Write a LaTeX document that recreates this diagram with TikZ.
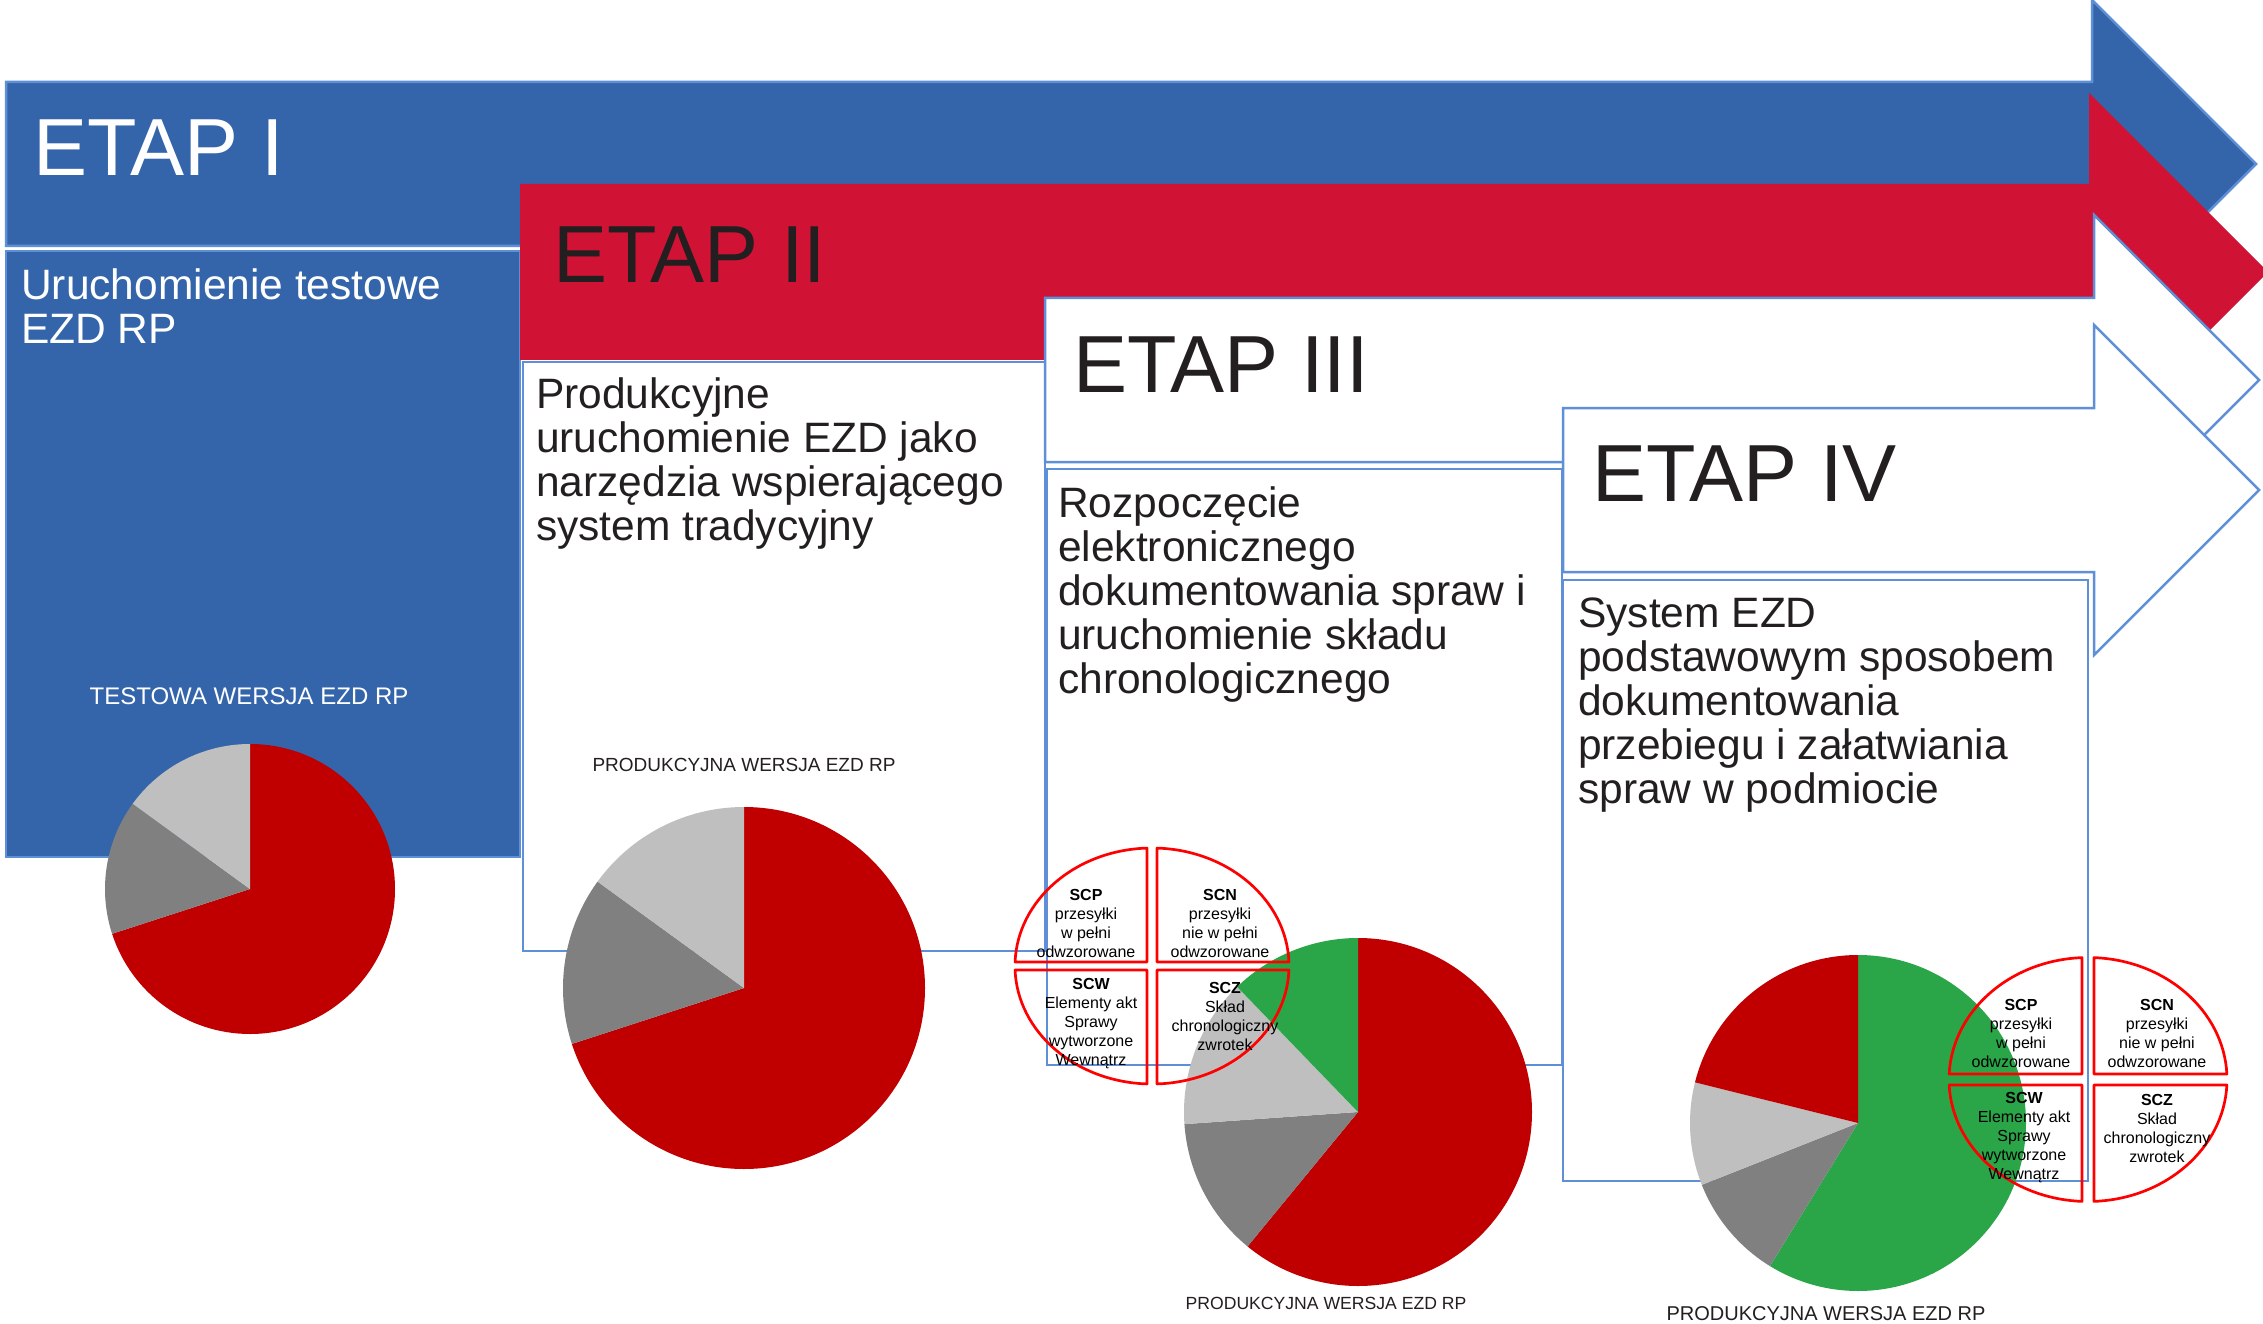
\documentclass[tikz,border=0pt]{standalone}
\usepackage{fontspec}
\setmainfont{Liberation Sans}
\definecolor{etapblue}{RGB}{52,101,170}
\definecolor{etapred}{RGB}{208,19,52}
\definecolor{edgeblue}{RGB}{95,143,215}
\definecolor{inkdark}{RGB}{35,31,32}
\definecolor{piered}{RGB}{192,0,0}
\definecolor{piedark}{RGB}{128,128,128}
\definecolor{pielight}{RGB}{191,191,191}
\definecolor{piegreen}{RGB}{42,166,72}
\definecolor{cellred}{RGB}{255,0,0}
\newcommand\cln[1]{\hbox to 0pt{\hss#1\hss}}
\newcommand\lln[1]{\hbox{#1}}
\newcommand\cellset[6]{%
\begin{scope}[shift={(#1,#2)}, x=1pt, y=1pt]
\pgfmathsetmacro\myax{asin(#5/#3)}
\pgfmathsetmacro\myay{asin(#6/#4)}
\draw[cellline] (#5,#6) -- ({#3*cos(\myay)},#6) arc[start angle=\myay, end angle=90-\myax, x radius=#3, y radius=#4] -- cycle;
\draw[cellline] (-#5,#6) -- (-#5,{#4*cos(\myax)}) arc[start angle=90+\myax, end angle=180-\myay, x radius=#3, y radius=#4] -- cycle;
\draw[cellline] (-#5,-#6) -- ({-#3*cos(\myay)},-#6) arc[start angle=180+\myay, end angle=270-\myax, x radius=#3, y radius=#4] -- cycle;
\draw[cellline] (#5,-#6) -- (#5,{-#4*cos(\myax)}) arc[start angle=270+\myax, end angle=360-\myay, x radius=#3, y radius=#4] -- cycle;
\end{scope}}
\tikzset{
  blueshape/.style={fill=etapblue, draw=edgeblue, line width=2.5pt, line join=miter},
  redshape/.style={fill=etapred},
  whiteshape/.style={fill=white, draw=edgeblue, line width=2.5pt, line join=miter},
  etaptitle/.style={anchor=base west, inner sep=0pt, font=\fontsize{81}{81}\selectfont, text=inkdark},
  bodytext/.style={anchor=base west, inner sep=0pt, font=\fontsize{42.5}{44}\selectfont, text=inkdark},
  pietitle/.style={anchor=base, inner sep=0pt, text=inkdark},
  celltext/.style={anchor=base, inner sep=0pt, font=\fontsize{16}{19.2}\selectfont, text=black},
  cellline/.style={draw=cellred, line width=2.7pt, line join=round},
}
\begin{document}
\begin{tikzpicture}[x=1pt, y=-1pt]
\fill[white] (0,0) rectangle (2263,1324);
\useasboundingbox (0,0) rectangle (2263,1324);

% ETAP I
\draw[blueshape] (6,82) -- (2092,82) -- (2092,0) -- (2256,164) -- (2092,328) -- (2092,246) -- (6,246) -- cycle;
\draw[blueshape] (6,251) rectangle (520,857);
% ETAP II
\fill[redshape] (520,184) -- (2089,184) -- (2089,93) -- (2268,272) -- (2089,451) -- (2089,360) -- (520,360) -- cycle;
\draw[whiteshape] (523,362) rectangle (1045,951);
% ETAP III
\draw[whiteshape] (1045,298) -- (2094,298) -- (2094,215) -- (2259,380) -- (2094,545) -- (2094,462) -- (1045,462) -- cycle;
\draw[whiteshape] (1047,469) rectangle (1562,1065);
% ETAP IV
\draw[whiteshape] (1563,408) -- (2094,408) -- (2094,325) -- (2259,490) -- (2094,655) -- (2094,572) -- (1563,572) -- cycle;
\draw[whiteshape] (1563,580) rectangle (2088,1181);

% titles
\node[etaptitle, text=white] (e1) at (33,176) {ETAP I};
\node[etaptitle] (e2) at (553,283) {ETAP II};
\node[etaptitle] (e3) at (1073,392) {ETAP III};
\node[etaptitle] (e4) at (1592,501) {ETAP IV};

% body texts
\node[bodytext, text=white] (t1) at (21,300) {\vtop{\lln{Uruchomienie testowe}\lln{EZD RP}}};
\node[bodytext] (t2) at (536,408) {\vtop{\lln{Produkcyjne}\lln{uruchomienie EZD jako}\lln{narzędzia wspierającego}\lln{system tradycyjny}}};
\node[bodytext] (t3) at (1058,517) {\vtop{\lln{Rozpoczęcie}\lln{elektronicznego}\lln{dokumentowania spraw i}\lln{uruchomienie składu}\lln{chronologicznego}}};
\node[bodytext] (t4) at (1578,627) {\vtop{\lln{System EZD}\lln{podstawowym sposobem}\lln{dokumentowania}\lln{przebiegu i załatwiania}\lln{spraw w podmiocie}}};

% pie 1
\begin{scope}[shift={(250,889)}, x=1pt, y=1pt]
\fill[piered] (0,0) -- (90:145) arc[start angle=90, end angle=-162, radius=145] -- cycle;
\fill[piedark] (0,0) -- (198:145) arc[start angle=198, end angle=144, radius=145] -- cycle;
\fill[pielight] (0,0) -- (144:145) arc[start angle=144, end angle=90, radius=145] -- cycle;
\end{scope}
\node[pietitle, text=white, font=\fontsize{24}{24}\selectfont] (p1) at (249,704) {TESTOWA WERSJA EZD RP};

% pie 2
\begin{scope}[shift={(744,988)}, x=1pt, y=1pt]
\fill[piered] (0,0) -- (90:181) arc[start angle=90, end angle=-162, radius=181] -- cycle;
\fill[piedark] (0,0) -- (198:181) arc[start angle=198, end angle=144, radius=181] -- cycle;
\fill[pielight] (0,0) -- (144:181) arc[start angle=144, end angle=90, radius=181] -- cycle;
\end{scope}
\node[pietitle, font=\fontsize{19}{19}\selectfont] (p2) at (744,771) {PRODUKCYJNA WERSJA EZD RP};

% pie 3
\begin{scope}[shift={(1358,1112)}, x=1pt, y=1pt]
\fill[piered] (0,0) -- (90:174) arc[start angle=90, end angle=-129.4, radius=174] -- cycle;
\fill[piedark] (0,0) -- (230.6:174) arc[start angle=230.6, end angle=184, radius=174] -- cycle;
\fill[pielight] (0,0) -- (184:174) arc[start angle=184, end angle=134, radius=174] -- cycle;
\fill[piegreen] (0,0) -- (134:174) arc[start angle=134, end angle=90, radius=174] -- cycle;
\end{scope}
\node[pietitle, font=\fontsize{17.6}{17.6}\selectfont] (p3) at (1326,1309) {PRODUKCYJNA WERSJA EZD RP};

% pie 4
\begin{scope}[shift={(1858,1123)}, x=1pt, y=1pt]
\fill[piegreen] (0,0) -- (90:168) arc[start angle=90, end angle=-121.6, radius=168] -- cycle;
\fill[piedark] (0,0) -- (238.4:168) arc[start angle=238.4, end angle=201.6, radius=168] -- cycle;
\fill[pielight] (0,0) -- (201.6:168) arc[start angle=201.6, end angle=166, radius=168] -- cycle;
\fill[piered] (0,0) -- (166:168) arc[start angle=166, end angle=90, radius=168] -- cycle;
\end{scope}
\node[pietitle, font=\fontsize{20}{20}\selectfont] (p4) at (1826,1320) {PRODUKCYJNA WERSJA EZD RP};

% cells set 1
\cellset{1152}{966}{137}{118}{5}{4}
\node[celltext] (a1) at (1086,900) {\vtop{\cln{\textbf{SCP}}\cln{przesyłki}\cln{w pełni}\cln{odwzorowane}}};
\node[celltext] (a2) at (1220,900) {\vtop{\cln{\textbf{SCN}}\cln{przesyłki}\cln{nie w pełni}\cln{odwzorowane}}};
\node[celltext] (a3) at (1091,989) {\vtop{\cln{\textbf{SCW}}\cln{Elementy akt}\cln{Sprawy}\cln{wytworzone}\cln{Wewnątrz}}};
\node[celltext] (a4) at (1225,993) {\vtop{\cln{\textbf{SCZ}}\cln{Skład}\cln{chronologiczny}\cln{zwrotek}}};

% cells set 2
\cellset{2088}{1079.5}{139}{122}{6}{5.5}
\node[celltext] (b1) at (2021,1010) {\vtop{\cln{\textbf{SCP}}\cln{przesyłki}\cln{w pełni}\cln{odwzorowane}}};
\node[celltext] (b2) at (2157,1010) {\vtop{\cln{\textbf{SCN}}\cln{przesyłki}\cln{nie w pełni}\cln{odwzorowane}}};
\node[celltext] (b3) at (2024,1103) {\vtop{\cln{\textbf{SCW}}\cln{Elementy akt}\cln{Sprawy}\cln{wytworzone}\cln{Wewnątrz}}};
\node[celltext] (b4) at (2157,1105) {\vtop{\cln{\textbf{SCZ}}\cln{Skład}\cln{chronologiczny}\cln{zwrotek}}};
\end{tikzpicture}
\end{document}
